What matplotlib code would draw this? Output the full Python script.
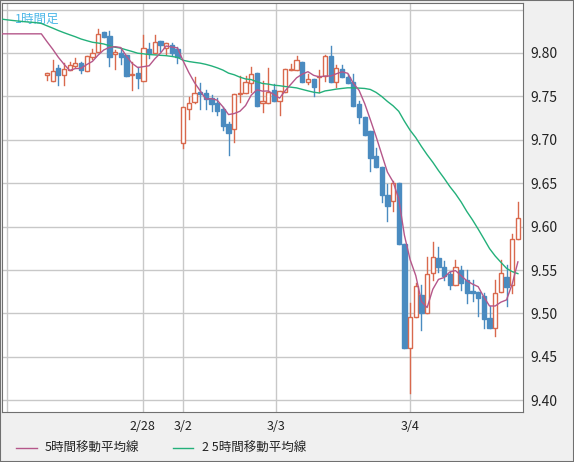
import numpy as np
import pandas as pd
import matplotlib.pyplot as plt
from matplotlib.patches import Rectangle

plt.rcParams['font.family'] = ['Noto Sans CJK JP', 'DejaVu Sans']

# 1時間足 (open, close, high, low) -- 読み取り値
opens = [9.775, 9.768, 9.783, 9.775, 9.780, 9.785, 9.788, 9.779, 9.795, 9.801,
         9.824, 9.820, 9.799, 9.800, 9.798, 9.775, 9.777, 9.768, 9.805, 9.800,
         9.814, 9.806, 9.809, 9.805, 9.696, 9.736, 9.743, 9.755, 9.754, 9.748,
         9.742, 9.736, 9.718, 9.712, 9.753, 9.754, 9.765, 9.777, 9.742, 9.742,
         9.757, 9.745, 9.755, 9.780, 9.780, 9.790, 9.766, 9.770, 9.772, 9.773,
         9.797, 9.766, 9.782, 9.772, 9.766, 9.741, 9.726, 9.710, 9.681, 9.669,
         9.636, 9.629, 9.650, 9.580, 9.460, 9.496, 9.521, 9.501, 9.547, 9.564,
         9.554, 9.545, 9.533, 9.550, 9.539, 9.526, 9.525, 9.520, 9.495, 9.483,
         9.525, 9.542, 9.533, 9.586]
closes = [9.777, 9.779, 9.775, 9.782, 9.786, 9.788, 9.780, 9.797, 9.800, 9.822,
          9.818, 9.795, 9.801, 9.795, 9.773, 9.776, 9.771, 9.806, 9.800, 9.813,
          9.809, 9.812, 9.800, 9.795, 9.738, 9.742, 9.754, 9.753, 9.747, 9.741,
          9.733, 9.716, 9.708, 9.753, 9.754, 9.766, 9.776, 9.739, 9.745, 9.755,
          9.745, 9.756, 9.782, 9.782, 9.792, 9.766, 9.770, 9.761, 9.773, 9.797,
          9.766, 9.783, 9.772, 9.765, 9.739, 9.726, 9.706, 9.679, 9.669, 9.636,
          9.624, 9.650, 9.580, 9.460, 9.496, 9.532, 9.501, 9.545, 9.565, 9.553,
          9.543, 9.533, 9.553, 9.535, 9.524, 9.524, 9.518, 9.494, 9.483, 9.524,
          9.546, 9.531, 9.586, 9.610]
highs = [9.777, 9.792, 9.786, 9.788, 9.790, 9.794, 9.790, 9.797, 9.805, 9.828,
         9.824, 9.825, 9.803, 9.805, 9.798, 9.790, 9.784, 9.821, 9.812, 9.821,
         9.814, 9.812, 9.812, 9.807, 9.738, 9.749, 9.772, 9.765, 9.757, 9.751,
         9.748, 9.738, 9.720, 9.753, 9.773, 9.773, 9.784, 9.777, 9.768, 9.783,
         9.764, 9.756, 9.782, 9.787, 9.797, 9.790, 9.776, 9.770, 9.780, 9.798,
         9.808, 9.786, 9.786, 9.776, 9.776, 9.745, 9.726, 9.710, 9.691, 9.669,
         9.649, 9.652, 9.650, 9.580, 9.512, 9.535, 9.533, 9.565, 9.582, 9.576,
         9.560, 9.548, 9.561, 9.555, 9.550, 9.539, 9.525, 9.523, 9.508, 9.539,
         9.561, 9.556, 9.591, 9.628]
lows = [9.769, 9.768, 9.763, 9.763, 9.780, 9.784, 9.777, 9.779, 9.793, 9.801,
        9.818, 9.785, 9.782, 9.787, 9.773, 9.757, 9.760, 9.768, 9.794, 9.800,
        9.802, 9.799, 9.798, 9.788, 9.691, 9.724, 9.742, 9.736, 9.736, 9.733,
        9.729, 9.711, 9.683, 9.698, 9.743, 9.754, 9.755, 9.739, 9.732, 9.742,
        9.745, 9.729, 9.755, 9.780, 9.780, 9.766, 9.764, 9.750, 9.755, 9.768,
        9.766, 9.761, 9.772, 9.765, 9.739, 9.719, 9.706, 9.664, 9.669, 9.628,
        9.607, 9.618, 9.580, 9.460, 9.408, 9.496, 9.481, 9.501, 9.539, 9.548,
        9.538, 9.528, 9.533, 9.527, 9.512, 9.514, 9.497, 9.483, 9.483, 9.474,
        9.525, 9.508, 9.524, 9.586]
# 前週の終値と週末 (移動平均の計算用)
prev_closes = [9.845] * 14 + [9.822] * 12

date_labels = ['2/28', '3/2', '3/3', '3/4']
date_pos = [16.9, 24.0, 40.4, 64.0]

up_col = '#d9694d'
dn_col = '#4a8bc0'
ma5_col = '#b5578a'
ma25_col = '#23b07a'

fig = plt.figure(figsize=(5.74, 4.62), dpi=100, facecolor='#f0f0f0')
ax = fig.add_axes([2 / 574, 1 - 412 / 462, 521 / 574, 409 / 462])
ax.set_facecolor('white')

n = len(closes)
w = 0.75
for i in range(n):
    o, c, h, l = opens[i], closes[i], highs[i], lows[i]
    col = up_col if c >= o else dn_col
    ax.plot([i, i], [l, h], color=col, lw=1, zorder=3)
    if c >= o:
        ax.add_patch(Rectangle((i - w / 2, o), w, max(c - o, 0.0008),
                               facecolor='white', edgecolor=col, lw=1, zorder=4))
    else:
        ax.add_patch(Rectangle((i - w / 2, c), w, o - c,
                               facecolor=col, edgecolor=col, lw=1, zorder=4))

# 移動平均
allc = pd.Series(prev_closes + closes)
xa = np.arange(len(allc)) - len(prev_closes)
ma5 = allc.rolling(5, min_periods=1).mean()
ma25 = allc.rolling(25, min_periods=1).mean()
m = xa >= -8
ax.plot(xa[m], ma25[m], color=ma25_col, lw=1, zorder=5)
ax.plot(xa[m], ma5[m], color=ma5_col, lw=1, zorder=5)

ax.set_xlim(-7.93, 83.9)
ax.set_ylim(9.3865, 9.8575)
yt = np.arange(9.40, 9.851, 0.05)
ax.set_yticks(yt)
ax.set_yticklabels([f'{v:.2f}' if v < 9.825 else '' for v in yt])
ax.yaxis.tick_right()
ax.tick_params(axis='y', length=0, pad=5, labelsize=10, labelcolor='#222222')
ax.set_xticks([-7.05] + date_pos)
ax.set_xticklabels([''] + date_labels)
ax.tick_params(axis='x', length=0, pad=6, labelsize=9, labelcolor='#222222')
ax.grid(True, color='#c8c8c8', lw=1)
ax.set_axisbelow(True)
for s in ax.spines.values():
    s.set_color('#707070')

ax.text(0.025, 0.975, '1時間足', transform=ax.transAxes, color='#4fb8e8',
        fontsize=9, va='top', ha='left')

fig.add_artist(plt.Line2D([16 / 574, 37 / 574], [1 - 448 / 462] * 2, color=ma5_col, lw=1))
fig.text(45 / 574, 1 - 448 / 462, '5時間移動平均線', fontsize=9, va='center', color='#222222')
fig.add_artist(plt.Line2D([173 / 574, 193 / 574], [1 - 448 / 462] * 2, color=ma25_col, lw=1))
fig.text(202 / 574, 1 - 448 / 462, '2 5時間移動平均線', fontsize=9, va='center', color='#222222')
fig.add_artist(Rectangle((0, 0), 1, 1, transform=fig.transFigure, fill=False,
                         edgecolor='#707070', lw=1.5))

fig.savefig('out.png', dpi=100, facecolor=fig.get_facecolor())
